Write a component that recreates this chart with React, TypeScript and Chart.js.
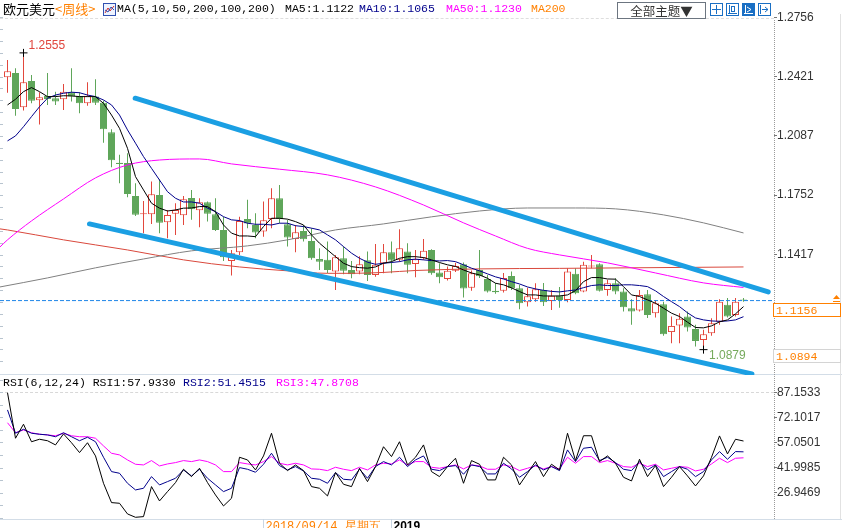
import React, { useEffect, useRef } from "react";
import { Chart, registerables } from "chart.js";

Chart.register(...registerables);

// ---------------- data (weekly EUR/USD) ----------------
const openP = [
  1.2417, 1.2442, 1.2248, 1.2396, 1.2287, 1.2312, 1.2299, 1.2293, 1.2333, 1.2312,
  1.2270, 1.2308, 1.2274, 1.2107, 1.1935, 1.1933, 1.1747, 1.1644, 1.1644, 1.1753,
  1.1599, 1.1647, 1.1638, 1.1736, 1.1666, 1.1712, 1.1644, 1.1555, 1.1380, 1.1429,
  1.1617, 1.1583, 1.1546, 1.1617, 1.1734, 1.1587, 1.1504, 1.1549, 1.1493, 1.1391,
  1.1386, 1.1320, 1.1395, 1.1329, 1.1320, 1.1384, 1.1301, 1.1367, 1.1429, 1.1386,
  1.1433, 1.1363, 1.1395, 1.1442, 1.1314, 1.1278, 1.1325, 1.1361, 1.1228, 1.1329,
  1.1278, 1.1211, 1.1211, 1.1295, 1.1226, 1.1147, 1.1164, 1.1216, 1.1153, 1.1185,
  1.1160, 1.1307, 1.1207, 1.1348, 1.1361, 1.1216, 1.1254, 1.1207, 1.1113, 1.1100,
  1.1192, 1.1085, 1.1136, 1.0978, 1.1015, 1.1066, 1.0996, 1.0934, 1.0972, 1.1037,
  1.1132, 1.1075, 1.1162,
];
const highP = [
  1.2515, 1.2468, 1.2555, 1.2430, 1.2333, 1.2442, 1.2336, 1.2379, 1.2468, 1.2333,
  1.2389, 1.2406, 1.2285, 1.2124, 1.1979, 1.1988, 1.1819, 1.1719, 1.1828, 1.1841,
  1.1668, 1.1706, 1.1747, 1.1781, 1.1734, 1.1715, 1.1734, 1.1630, 1.1442, 1.1630,
  1.1725, 1.1649, 1.1715, 1.1791, 1.1809, 1.1612, 1.1583, 1.1583, 1.1565, 1.1452,
  1.1489, 1.1414, 1.1461, 1.1380, 1.1407, 1.1433, 1.1476, 1.1476, 1.1489, 1.1559,
  1.1480, 1.1442, 1.1504, 1.1446, 1.1367, 1.1348, 1.1369, 1.1371, 1.1326, 1.1442,
  1.1301, 1.1256, 1.1312, 1.1320, 1.1245, 1.1228, 1.1254, 1.1256, 1.1216, 1.1233,
  1.1339, 1.1339, 1.1376, 1.1414, 1.1367, 1.1273, 1.1282, 1.1226, 1.1164, 1.1216,
  1.1216, 1.1160, 1.1150, 1.1066, 1.1085, 1.1094, 1.1019, 1.0991, 1.1056, 1.1164,
  1.1170, 1.1170, 1.1170,
];
const lowP = [
  1.2330, 1.2200, 1.2229, 1.2270, 1.2150, 1.2261, 1.2261, 1.2233, 1.2280, 1.2214,
  1.2257, 1.2261, 1.2048, 1.1909, 1.1819, 1.1740, 1.1634, 1.1537, 1.1589, 1.1537,
  1.1508, 1.1527, 1.1583, 1.1612, 1.1570, 1.1602, 1.1549, 1.1380, 1.1297, 1.1414,
  1.1565, 1.1508, 1.1517, 1.1565, 1.1593, 1.1461, 1.1429, 1.1489, 1.1386, 1.1329,
  1.1311, 1.1216, 1.1305, 1.1282, 1.1305, 1.1267, 1.1291, 1.1311, 1.1311, 1.1376,
  1.1311, 1.1288, 1.1386, 1.1302, 1.1254, 1.1269, 1.1318, 1.1174, 1.1211, 1.1284,
  1.1201, 1.1194, 1.1202, 1.1216, 1.1107, 1.1122, 1.1150, 1.1126, 1.1103, 1.1115,
  1.1147, 1.1192, 1.1203, 1.1339, 1.1207, 1.1184, 1.1192, 1.1094, 1.1019, 1.1094,
  1.1057, 1.1060, 1.0958, 1.0915, 1.0915, 1.0981, 1.0896, 1.0879, 1.0958, 1.1019,
  1.1060, 1.1066, 1.1150,
];
const closeP = [
  1.2451, 1.2238, 1.2389, 1.2285, 1.2304, 1.2295, 1.2280, 1.2336, 1.2308, 1.2270,
  1.2313, 1.2274, 1.2124, 1.1949, 1.1928, 1.1758, 1.1641, 1.1649, 1.1757, 1.1596,
  1.1640, 1.1668, 1.1728, 1.1672, 1.1712, 1.1647, 1.1555, 1.1401, 1.1424, 1.1606,
  1.1591, 1.1540, 1.1610, 1.1734, 1.1617, 1.1512, 1.1542, 1.1503, 1.1395, 1.1376,
  1.1329, 1.1401, 1.1325, 1.1305, 1.1361, 1.1301, 1.1358, 1.1429, 1.1382, 1.1452,
  1.1358, 1.1390, 1.1438, 1.1311, 1.1288, 1.1324, 1.1352, 1.1224, 1.1311, 1.1293,
  1.1207, 1.1203, 1.1284, 1.1226, 1.1141, 1.1181, 1.1220, 1.1147, 1.1183, 1.1160,
  1.1320, 1.1198, 1.1358, 1.1354, 1.1212, 1.1254, 1.1207, 1.1119, 1.1094, 1.1188,
  1.1075, 1.1141, 1.0966, 1.1013, 1.1053, 1.1004, 1.0928, 1.0966, 1.1028, 1.1150,
  1.1066, 1.1150, 1.1156,
];

const ma5 = [
  1.2261, 1.2293, 1.2336, 1.2359, 1.2336, 1.2308, 1.2308, 1.2313, 1.2312, 1.2308,
  1.2308, 1.2308, 1.2270, 1.2204, 1.2129, 1.2016, 1.1856, 1.1781, 1.1706, 1.1678,
  1.1662, 1.1668, 1.1678, 1.1679, 1.1687, 1.1687, 1.1658, 1.1583, 1.1537, 1.1521,
  1.1521, 1.1517, 1.1574, 1.1621, 1.1621, 1.1616, 1.1602, 1.1583, 1.1527, 1.1480,
  1.1442, 1.1404, 1.1367, 1.1348, 1.1342, 1.1339, 1.1346, 1.1367, 1.1376, 1.1395,
  1.1404, 1.1404, 1.1399, 1.1386, 1.1371, 1.1358, 1.1349, 1.1329, 1.1312, 1.1301,
  1.1282, 1.1254, 1.1245, 1.1228, 1.1207, 1.1188, 1.1188, 1.1182, 1.1182, 1.1182,
  1.1188, 1.1212, 1.1263, 1.1286, 1.1286, 1.1278, 1.1277, 1.1235, 1.1188, 1.1179,
  1.1160, 1.1141, 1.1113, 1.1085, 1.1066, 1.1034, 1.1004, 1.1002, 1.1013, 1.1036,
  1.1047, 1.1081, 1.1122,
];
const ma10 = [
  1.2058, 1.2086, 1.2138, 1.2195, 1.2251, 1.2299, 1.2317, 1.2327, 1.2333, 1.2330,
  1.2317, 1.2308, 1.2289, 1.2261, 1.2204, 1.2120, 1.2045, 1.1969, 1.1903, 1.1837,
  1.1771, 1.1734, 1.1713, 1.1713, 1.1706, 1.1678, 1.1658, 1.1630, 1.1612, 1.1608,
  1.1593, 1.1587, 1.1587, 1.1583, 1.1593, 1.1593, 1.1579, 1.1574, 1.1565, 1.1555,
  1.1527, 1.1499, 1.1461, 1.1424, 1.1395, 1.1373, 1.1361, 1.1367, 1.1371, 1.1376,
  1.1386, 1.1390, 1.1386, 1.1382, 1.1380, 1.1382, 1.1376, 1.1358, 1.1339, 1.1324,
  1.1307, 1.1290, 1.1278, 1.1263, 1.1250, 1.1233, 1.1222, 1.1214, 1.1208, 1.1205,
  1.1211, 1.1216, 1.1229, 1.1241, 1.1245, 1.1241, 1.1241, 1.1245, 1.1245, 1.1241,
  1.1235, 1.1211, 1.1179, 1.1150, 1.1122, 1.1087, 1.1058, 1.1047, 1.1041, 1.1039,
  1.1041, 1.1047, 1.1065,
];
// smooth long averages, read at sample weeks (week index, value)
const ma50Week = [-0.9375, 0, 3, 7, 11, 15, 19, 24, 28, 34, 40, 46, 52, 57, 61, 65, 69, 75, 81, 87, 92];
const ma50Val = [1.1459, 1.1499, 1.1606, 1.1730, 1.1849, 1.1922, 1.1950, 1.1956, 1.1928, 1.1898, 1.1866, 1.1798, 1.1696, 1.1595, 1.1521, 1.1451, 1.1414, 1.1369, 1.1312, 1.1256, 1.1230];
const ma100Week = [-0.9375, 5, 11, 17, 23, 30, 35, 41, 47, 53, 59, 65, 71, 76, 82, 87, 92];
const ma100Val = [1.1233, 1.1284, 1.1341, 1.1391, 1.1437, 1.1465, 1.1499, 1.1555, 1.1589, 1.1629, 1.1662, 1.1679, 1.1679, 1.1674, 1.1640, 1.1595, 1.1538];
const ma200Week = [-0.9375, 0, 7, 15, 22, 29, 35, 40, 43, 47, 51, 59, 69, 92];
const ma200Val = [1.1561, 1.1555, 1.1499, 1.1442, 1.1386, 1.1346, 1.1324, 1.1310, 1.1310, 1.1315, 1.1326, 1.1335, 1.1338, 1.1346];

// hand-drawn channel lines (week index, price)
const upperTrendWeek = [15.96, 95.09];
const upperTrendVal = [1.2299, 1.1205];
const lowerTrendWeek = [10.25, 93.05];
const lowerTrendVal = [1.1589, 1.0742];

const priceTicks = [1.2756, 1.2421, 1.2087, 1.1752, 1.1417, 1.1082];
const markPrice = 1.0894;

const rsi1 = [
  86.9, 59.6, 68.0, 57.5, 59.0, 58.1, 55.6, 62.2, 56.9, 51.0,
  56.9, 49.0, 32.6, 21.0, 20.6, 14.2, 12.2, 12.6, 30.6, 22.0,
  27.6, 33.0, 41.0, 36.6, 41.6, 33.0, 25.6, 19.0, 23.6, 48.2,
  46.6, 40.6, 49.0, 62.6, 44.6, 40.2, 43.6, 40.2, 30.6, 29.6,
  25.0, 39.0, 32.0, 30.6, 41.6, 33.6, 42.6, 54.5, 48.6, 57.5,
  43.6, 48.2, 55.6, 39.6, 36.6, 42.6, 47.6, 32.6, 46.2, 44.0,
  34.6, 34.6, 48.2, 43.6, 31.6, 38.6, 45.6, 36.6, 44.0, 40.6,
  62.6, 46.2, 61.1, 61.1, 45.6, 49.0, 44.6, 36.2, 34.0, 47.0,
  36.6, 43.2, 30.6, 36.2, 42.6, 37.0, 31.0, 37.0, 48.2, 61.0,
  50.2, 59.0, 57.933,
];
const rsi2 = [
  76.6, 62.6, 65.0, 62.6, 62.0, 61.6, 60.5, 62.9, 60.5, 58.1,
  60.2, 57.5, 48.2, 39.6, 38.6, 32.6, 28.6, 29.6, 36.6, 31.6,
  33.6, 35.6, 40.6, 37.0, 41.0, 35.6, 31.6, 27.6, 29.6, 42.0,
  41.0, 39.2, 44.0, 50.6, 43.2, 40.6, 42.6, 40.0, 35.6, 35.0,
  32.6, 39.0, 35.0, 34.6, 41.0, 35.6, 42.6, 45.6, 43.6, 48.2,
  42.6, 46.6, 49.0, 41.0, 40.2, 42.6, 43.2, 38.0, 43.6, 42.6,
  38.2, 38.2, 44.6, 41.2, 36.2, 39.6, 43.6, 40.6, 42.6, 40.2,
  52.6, 45.6, 53.6, 54.2, 46.2, 48.2, 45.0, 41.0, 40.2, 45.6,
  40.6, 43.6, 36.6, 39.6, 42.6, 41.0, 36.6, 39.6, 46.6, 51.6,
  47.0, 51.6, 51.4515,
];
const rsi3 = [
  68.9, 62.9, 64.6, 62.9, 62.0, 61.6, 61.1, 62.6, 61.1, 60.5,
  60.5, 59.6, 55.0, 50.6, 49.6, 46.6, 44.0, 43.6, 46.2, 43.0,
  44.2, 45.0, 46.2, 45.6, 46.6, 45.6, 43.6, 39.6, 39.6, 45.0,
  44.2, 43.6, 45.6, 48.6, 44.6, 43.6, 44.6, 43.6, 41.2, 41.0,
  40.2, 42.2, 41.0, 40.2, 42.2, 40.6, 43.6, 44.6, 44.2, 46.6,
  43.6, 45.6, 45.6, 42.2, 41.6, 42.6, 43.6, 41.2, 43.6, 43.0,
  41.0, 41.0, 43.6, 42.6, 40.2, 41.6, 43.0, 41.2, 42.6, 41.2,
  48.2, 44.6, 48.6, 48.6, 45.0, 46.2, 44.6, 42.6, 42.2, 44.6,
  42.6, 44.0, 40.6, 41.6, 42.6, 42.2, 40.0, 41.0, 44.2, 47.6,
  45.0, 47.6, 47.8708,
];
const rsiTicks = [87.1533, 72.1017, 57.0501, 41.9985, 26.9469];

const dateLabelWeek = [32, 48];
const dateLabelText = ["2018/09/14 星期五", "2019"];

// ---------------- layout constants ----------------
const X_MIN = -0.9375;
const X_MAX = 95.8125;
const P_MIN = 1.0747;
const P_MAX = 1.27972;
const R_MIN = 11.17;
const R_MAX = 97.53;

const RED = "#e2473d";
const GREEN = "#5fa65a";
const TREND = "#1b9fe3";
const NAVY = "#00008b";
const MAGENTA = "#ff00ff";
const ORANGE = "#ff8000";
const MONO = '"Liberation Mono", "DejaVu Sans Mono", monospace';
const SANS = '"Liberation Sans", Arial, sans-serif';
const CJK = '"Noto Sans CJK SC", "Noto Sans", sans-serif';

const weeks = openP.map((_, i) => i);
const isUp = (i: number) => closeP[i] >= openP[i];
const pts = (xs: number[], ys: number[]) => xs.map((x, k) => ({ x, y: ys[k] }));
const hiIdx = highP.indexOf(Math.max(...highP));
const loIdx = lowP.indexOf(Math.min(...lowP));
const lastClose = closeP[closeP.length - 1];

// faint minor ticks at the left edge (fractions of the major tick step)
function minorTicks(ticks: number[], parts: number) {
  return {
    id: "minorTicks" + parts,
    afterDraw(chart: any) {
      const { ctx, scales, chartArea } = chart;
      const y = scales.y;
      const step = (ticks[0] - ticks[1]) / parts;
      ctx.save();
      ctx.strokeStyle = "#b8c4cf";
      ctx.lineWidth = 1;
      for (let v = ticks[0] + 3 * step; v > y.min; v -= step) {
        if (v > y.max) continue;
        const py = Math.round(y.getPixelForValue(v)) + 0.5;
        ctx.beginPath();
        ctx.moveTo(chartArea.left, py);
        ctx.lineTo(chartArea.left + 3, py);
        ctx.stroke();
      }
      ctx.restore();
    },
  };
}

const priceDecor = {
  id: "priceDecor",
  afterDatasetsDraw(chart: any) {
    const { ctx, scales } = chart;
    const x = scales.x, y = scales.y;
    ctx.save();
    ctx.font = "12px " + SANS;
    ctx.textBaseline = "middle";
    ctx.textAlign = "left";
    const hx = x.getPixelForValue(hiIdx), hy = y.getPixelForValue(highP[hiIdx]);
    ctx.fillStyle = "#e0453d";
    ctx.fillText(highP[hiIdx].toFixed(4), hx + 5, hy - 7);
    const lx = x.getPixelForValue(loIdx), ly = y.getPixelForValue(lowP[loIdx]);
    ctx.fillStyle = "#76aa5c";
    ctx.fillText(lowP[loIdx].toFixed(4), lx + 5.5, ly + 6.5);
    ctx.restore();
  },
  afterDraw(chart: any) {
    const { ctx, scales } = chart;
    const y = scales.y;
    const box = (v: number, border: string) => {
      const py = Math.round(y.getPixelForValue(v));
      ctx.save();
      ctx.fillStyle = "#fff";
      ctx.fillRect(773, py + 2, 68, 14);
      ctx.strokeStyle = border;
      ctx.lineWidth = 1;
      ctx.strokeRect(773.5, py + 2.5, 67, 13);
      ctx.fillStyle = ORANGE;
      ctx.font = "11.5px " + MONO;
      ctx.textBaseline = "middle";
      ctx.textAlign = "left";
      ctx.fillText(v.toFixed(4), 776, py + 9.5);
      ctx.restore();
    };
    box(markPrice, "#d4d4d4");
    box(lastClose, ORANGE);
    const py = Math.round(y.getPixelForValue(lastClose));
    ctx.save();
    ctx.fillStyle = ORANGE;
    ctx.beginPath();
    ctx.moveTo(836.5, py - 6);
    ctx.lineTo(840, py - 2);
    ctx.lineTo(833, py - 2);
    ctx.closePath();
    ctx.fill();
    ctx.fillRect(833, py, 7, 1);
    ctx.restore();
  },
};

const rsiDecor = {
  id: "rsiDecor",
  afterDraw(chart: any) {
    const { ctx, scales } = chart;
    const x = scales.x;
    ctx.save();
    dateLabelWeek.forEach((w, k) => {
      const px = Math.round(x.getPixelForValue(w)) - 0.5;
      ctx.strokeStyle = "#c9d6e3";
      ctx.beginPath();
      ctx.moveTo(px, 144);
      ctx.lineTo(px, 153);
      ctx.stroke();
      ctx.textBaseline = "top";
      ctx.textAlign = "left";
      if (k === 0) {
        ctx.fillStyle = ORANGE;
        ctx.font = "12px " + MONO;
      } else {
        ctx.fillStyle = "#000";
        ctx.font = "bold 12px " + SANS;
      }
      ctx.fillText(dateLabelText[k], px + 2, 146);
    });
    ctx.restore();
  },
};

function yAxis(min: number, max: number, ticks: number[]) {
  return {
    type: "linear",
    position: "right",
    min,
    max,
    afterBuildTicks: (s: any) => {
      s.ticks = ticks.map((v) => ({ value: v }));
    },
    afterFit: (s: any) => {
      s.width = 68;
      s.paddingTop = 0;
      s.paddingBottom = 0;
      s.paddingLeft = 0;
      s.paddingRight = 0;
    },
    grid: { drawOnChartArea: false, drawTicks: true, tickLength: 3, tickColor: "#777" },
    border: { display: false },
    ticks: {
      padding: 0,
      color: "#333",
      font: { family: SANS, size: 12 },
      callback: (v: any) => Number(v).toFixed(4),
      autoSkip: false,
    },
  };
}

const xAxis = { type: "linear", min: X_MIN, max: X_MAX, display: false, offset: false };

function lineDs(label: string, data: any[], color: string, order: number, extra: any = {}) {
  return {
    type: "line",
    label,
    data,
    borderColor: color,
    backgroundColor: color,
    borderWidth: 1,
    pointRadius: 0,
    fill: false,
    order,
    ...extra,
  };
}

export default function App() {
  const priceRef = useRef<HTMLCanvasElement>(null);
  const rsiRef = useRef<HTMLCanvasElement>(null);

  useEffect(() => {
    const smooth = { cubicInterpolationMode: "monotone" };
    const price = new Chart(priceRef.current as HTMLCanvasElement, {
      type: "bar",
      data: {
        datasets: [
          lineDs("upper", pts(upperTrendWeek, upperTrendVal), TREND, 0, { borderWidth: 5, borderCapStyle: "round", clip: false }),
          lineDs("lower", pts(lowerTrendWeek, lowerTrendVal), TREND, 0, { borderWidth: 5, borderCapStyle: "round", clip: false }),
          {
            type: "line",
            label: "extremes",
            data: [
              { x: hiIdx, y: highP[hiIdx] },
              { x: loIdx, y: lowP[loIdx] },
            ],
            showLine: false,
            pointStyle: "cross",
            pointRadius: 4,
            borderColor: "#000",
            borderWidth: 1,
            order: 0,
          },
          lineDs("MA5", pts(weeks, ma5), "#000000", 1),
          lineDs("MA10", pts(weeks, ma10), NAVY, 1),
          lineDs("MA50", pts(ma50Week, ma50Val), MAGENTA, 2, smooth),
          lineDs("MA100", pts(ma100Week, ma100Val), "#808080", 2, smooth),
          lineDs("MA200", pts(ma200Week, ma200Val), "#d9483c", 2, smooth),
          lineDs("last", [{ x: X_MIN, y: lastClose }, { x: X_MAX, y: lastClose }], "#1f86e8", 3, { borderDash: [4, 2] }),
          {
            type: "bar",
            label: "body",
            data: weeks.map((i) => ({ x: i, y: [openP[i], closeP[i]] })),
            backgroundColor: (c: any) => (isUp(c.dataIndex) ? "#ffffff" : GREEN),
            borderColor: (c: any) => (isUp(c.dataIndex) ? RED : GREEN),
            borderWidth: 1,
            borderSkipped: false,
            barThickness: 7,
            minBarLength: 1,
            grouped: false,
            inflateAmount: 0,
            order: 4,
          },
          {
            type: "bar",
            label: "wick",
            data: weeks.map((i) => ({ x: i, y: [lowP[i], highP[i]] })),
            backgroundColor: (c: any) => (isUp(c.dataIndex) ? RED : GREEN),
            borderWidth: 0,
            barThickness: 1,
            grouped: false,
            inflateAmount: 0,
            order: 5,
          },
        ],
      } as any,
      options: {
        animation: false,
        responsive: false,
        devicePixelRatio: 1,
        events: [],
        layout: { autoPadding: false, padding: { top: 10, bottom: 2, left: 0, right: 0 } },
        plugins: { legend: { display: false }, tooltip: { enabled: false } },
        scales: { x: xAxis, y: yAxis(P_MIN, P_MAX, priceTicks) } as any,
      },
      plugins: [priceDecor, minorTicks(priceTicks, 5)],
    } as any);

    const rsi = new Chart(rsiRef.current as HTMLCanvasElement, {
      type: "line",
      data: {
        datasets: [
          lineDs("RSI1", pts(weeks, rsi1), "#000000", 0),
          lineDs("RSI2", pts(weeks, rsi2), NAVY, 1),
          lineDs("RSI3", pts(weeks, rsi3), MAGENTA, 2),
        ],
      } as any,
      options: {
        animation: false,
        responsive: false,
        devicePixelRatio: 1,
        events: [],
        layout: { autoPadding: false, padding: { top: 0, bottom: 9, left: 0, right: 0 } },
        plugins: { legend: { display: false }, tooltip: { enabled: false } },
        scales: { x: xAxis, y: yAxis(R_MIN, R_MAX, rsiTicks) } as any,
      },
      plugins: [rsiDecor, minorTicks(rsiTicks, 2)],
    } as any);

    return () => {
      price.destroy();
      rsi.destroy();
    };
  }, []);

  const abs = (s: any) => ({ position: "absolute", ...s } as React.CSSProperties);
  const monoTxt = (left: number, top: number, color: string, text: string) => (
    <span style={abs({ left, top, color, font: "11.5px " + MONO, whiteSpace: "pre", lineHeight: "14px" })}>{text}</span>
  );
  const iconBox = (left: number, filled: boolean, key: number) => (
    <div
      key={key}
      style={abs({
        left,
        top: 3,
        width: 11,
        height: 11,
        border: "1px solid #1a6fc4",
        background: filled ? "#1a6fc4" : "#fff",
      })}
    >
      <svg width="11" height="11" style={{ display: "block" }}>
        {key === 0 && (
          <g stroke="#1a6fc4" strokeWidth="1">
            <line x1="5.5" y1="1" x2="5.5" y2="10" />
            <line x1="1" y1="5.5" x2="10" y2="5.5" />
          </g>
        )}
        {key === 1 && (
          <g stroke="#1a6fc4" strokeWidth="1" fill="none">
            <line x1="2.5" y1="1" x2="2.5" y2="10" />
            <line x1="1" y1="9.5" x2="10" y2="9.5" />
            <rect x="4.5" y="2.5" width="3" height="5" />
          </g>
        )}
        {key === 2 && (
          <g stroke="#fff" strokeWidth="1" fill="none">
            <line x1="2.5" y1="1" x2="2.5" y2="10" />
            <line x1="1" y1="9.5" x2="10" y2="9.5" />
            <polyline points="4,3 8,5.5 4,8" />
          </g>
        )}
        {key === 3 && (
          <g stroke="#1a6fc4" strokeWidth="1" fill="none">
            <line x1="1.5" y1="1" x2="1.5" y2="10" />
            <polyline points="3,5.5 9,5.5" />
            <polyline points="6,3 9,5.5 6,8" />
          </g>
        )}
      </svg>
    </div>
  );

  return (
    <div style={abs({ position: "fixed", left: 0, top: 0, width: 842, height: 528, background: "#fff", overflow: "hidden" })}>
      {/* panel decorations */}
      <div style={abs({ left: 0, top: 18, width: 774, height: 0, borderTop: "1px dashed #dedede" })} />
      <div style={abs({ left: 0, top: 392, width: 774, height: 0, borderTop: "1px dashed #d8d8d8" })} />
      <div style={abs({ left: 0, top: 374, width: 842, height: 1, background: "#d3dde7" })} />
      <div style={abs({ left: 0, top: 519, width: 842, height: 1, background: "#d3dde7" })} />
      <div style={abs({ left: 774, top: 20, width: 0, height: 499, borderLeft: "1px dotted #9a9a9a" })} />
      <div style={abs({ left: 840, top: 14, width: 1, height: 505, background: "#e2e2e2" })} />

      <canvas ref={priceRef} width={842} height={375} style={abs({ left: 0, top: 0, width: 842, height: 375 })} />
      <canvas ref={rsiRef} width={842} height={153} style={abs({ left: 0, top: 375, width: 842, height: 153 })} />

      {/* header of price panel */}
      <span style={abs({ left: 3, top: 1, font: "13px " + CJK, color: "#000", lineHeight: "16px", whiteSpace: "pre" })}>欧元美元</span>
      <span style={abs({ left: 55, top: 1, font: "13px " + CJK, color: ORANGE, lineHeight: "16px", whiteSpace: "pre" })}>&lt;周线&gt;</span>
      <div style={abs({ left: 103, top: 3, width: 11, height: 11, border: "1px solid #3050b0", background: "#eef3ff" })}>
        <svg width="11" height="11" style={{ display: "block" }}>
          <polyline points="1,9 4,4 6,7 10,2" stroke="#d03030" fill="none" strokeWidth="1" />
          <polyline points="1,6 4,8 7,3 10,6" stroke="#3050b0" fill="none" strokeWidth="1" />
        </svg>
      </div>
      {monoTxt(117, 2, "#000", "MA(5,10,50,200,100,200)")}
      {monoTxt(285, 2, "#000", "MA5:" + ma5[ma5.length - 1].toFixed(4))}
      {monoTxt(359, 2, NAVY, "MA10:" + ma10[ma10.length - 1].toFixed(4))}
      {monoTxt(446, 2, MAGENTA, "MA50:" + ma50Val[ma50Val.length - 1].toFixed(4))}
      {monoTxt(531, 2, ORANGE, "MA200")}

      <div
        style={abs({
          left: 617,
          top: 2,
          width: 87,
          height: 15,
          border: "1px solid #6c7580",
          font: "12.5px " + CJK,
          color: "#333",
          lineHeight: "15px",
          textAlign: "center",
        })}
      >
        全部主题▼
      </div>
      {[710, 726, 742, 758].map((l, k) => iconBox(l, k === 2, k))}

      {/* header of RSI panel */}
      {monoTxt(3, 376, "#000", "RSI(6,12,24) RSI1:" + rsi1[rsi1.length - 1].toFixed(4))}
      {monoTxt(183, 376, NAVY, "RSI2:" + rsi2[rsi2.length - 1].toFixed(4))}
      {monoTxt(276, 376, MAGENTA, "RSI3:" + rsi3[rsi3.length - 1].toFixed(4))}
    </div>
  );
}
